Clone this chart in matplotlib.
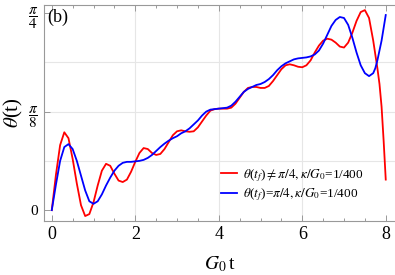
import numpy as np
import matplotlib.pyplot as plt
from matplotlib.ticker import MultipleLocator, FixedLocator

plt.rcParams.update({
    "font.family": "Liberation Serif",
    "mathtext.fontset": "stix",
})

# ============================================================
# Data (theta in units of pi/8)
# ============================================================
t_red = [0.0, 0.1, 0.2, 0.3, 0.4, 0.5, 0.6, 0.7, 0.8, 0.9,
         1.0, 1.1, 1.2, 1.3, 1.4, 1.5, 1.6, 1.7, 1.8, 1.9,
         2.0, 2.1, 2.2, 2.3, 2.4, 2.5, 2.6, 2.7, 2.8, 2.9,
         3.0, 3.1, 3.2, 3.3, 3.4, 3.5, 3.6, 3.7, 3.8, 3.9,
         4.0, 4.1, 4.2, 4.3, 4.4, 4.5, 4.6, 4.7, 4.8, 4.9,
         5.0, 5.1, 5.2, 5.3, 5.4, 5.5, 5.6, 5.7, 5.8, 5.9,
         6.0, 6.1, 6.2, 6.3, 6.4, 6.5, 6.6, 6.7, 6.8, 6.9,
         7.0, 7.1, 7.2, 7.3, 7.4, 7.5, 7.6, 7.7, 7.8, 7.85,
         7.9, 7.95, 8.0]
th_red = [0.0, 0.36, 0.66, 0.79, 0.73, 0.52, 0.27, 0.05, -0.06, -0.04,
          0.08, 0.25, 0.40, 0.47, 0.45, 0.37, 0.30, 0.285, 0.31, 0.39,
          0.49, 0.58, 0.63, 0.62, 0.58, 0.56, 0.57, 0.62, 0.69, 0.76,
          0.80, 0.81, 0.80, 0.795, 0.80, 0.84, 0.90, 0.96, 1.01, 1.025,
          1.03, 1.03, 1.03, 1.04, 1.08, 1.14, 1.20, 1.24, 1.25, 1.25,
          1.24, 1.24, 1.26, 1.31, 1.37, 1.43, 1.47, 1.48, 1.47, 1.455,
          1.45, 1.47, 1.52, 1.60, 1.67, 1.72, 1.74, 1.73, 1.70, 1.66,
          1.65, 1.70, 1.80, 1.92, 2.01, 2.03, 1.95, 1.72, 1.44, 1.28,
          1.05, 0.70, 0.31]

t_blue = [0.0, 0.1, 0.2, 0.3, 0.4, 0.5, 0.6, 0.7, 0.8, 0.9,
          1.0, 1.1, 1.2, 1.3, 1.4, 1.5, 1.6, 1.7, 1.8, 1.9,
          2.0, 2.1, 2.2, 2.3, 2.4, 2.5, 2.6, 2.7, 2.8, 2.9,
          3.0, 3.1, 3.2, 3.3, 3.4, 3.5, 3.6, 3.7, 3.8, 3.9,
          4.0, 4.1, 4.2, 4.3, 4.4, 4.5, 4.6, 4.7, 4.8, 4.9,
          5.0, 5.1, 5.2, 5.3, 5.4, 5.5, 5.6, 5.7, 5.8, 5.9,
          6.0, 6.1, 6.2, 6.3, 6.4, 6.5, 6.6, 6.7, 6.8, 6.9,
          7.0, 7.1, 7.2, 7.3, 7.4, 7.5, 7.6, 7.7, 7.75, 7.8,
          7.9, 8.0]
th_blue = [0.0, 0.26, 0.50, 0.64, 0.67, 0.62, 0.50, 0.35, 0.20, 0.09,
           0.064, 0.09, 0.16, 0.25, 0.33, 0.40, 0.45, 0.48, 0.49, 0.49,
           0.495, 0.50, 0.51, 0.53, 0.56, 0.60, 0.64, 0.675, 0.705, 0.73,
           0.75, 0.78, 0.80, 0.83, 0.87, 0.91, 0.96, 1.00, 1.02, 1.025,
           1.03, 1.035, 1.04, 1.06, 1.10, 1.15, 1.20, 1.23, 1.25, 1.27,
           1.28, 1.30, 1.33, 1.37, 1.42, 1.46, 1.49, 1.51, 1.53, 1.54,
           1.545, 1.55, 1.56, 1.58, 1.62, 1.69, 1.78, 1.87, 1.93, 1.96,
           1.95, 1.88, 1.75, 1.60, 1.47, 1.39, 1.36, 1.39, 1.44, 1.52,
           1.72, 1.98]

labels = [r"$\theta$($t_f$)$\neq\pi/4,\kappa/G_0$=1/400",
          r"$\theta$($t_f$)=$\pi/4,\kappa/G_0$=1/400"]

x_ticks = [0, 2, 4, 6, 8]
y_ticks = [0, np.pi / 8, np.pi / 4]
y_ticklabels = ["0", r"$\dfrac{\pi}{8}$", r"$\dfrac{\pi}{4}$"]

# ============================================================
# Plot
# ============================================================
fig = plt.figure(figsize=(3.95, 2.75), dpi=100)
# axes run past the right edge of the figure, as in the original crop
ax = fig.add_axes([0.111, 0.197, 0.92, 0.785])

scale = np.pi / 8
ax.plot(t_red, np.array(th_red) * scale, color="#ff0000", lw=1.3, label=labels[0])
ax.plot(t_blue, np.array(th_blue) * scale, color="#0000ff", lw=1.3, label=labels[1])

ax.set_xlim(-0.19, 8.515)
ax.set_ylim(-0.0426, 0.8177)

ax.xaxis.set_major_locator(FixedLocator(x_ticks))
ax.xaxis.set_minor_locator(MultipleLocator(0.5))
ax.yaxis.set_major_locator(FixedLocator(y_ticks))
ax.set_yticklabels(y_ticklabels)
ax.get_yticklabels()[0].set_fontsize(13)

# grid every 2 in x, every pi/16 in y
for xv in [2, 4, 6]:
    ax.axvline(xv, color="#e6e6e6", lw=0.8, zorder=0)
for k in range(1, 4):
    ax.axhline(k * np.pi / 16, color="#e6e6e6", lw=0.8, zorder=0)

ax.tick_params(which="both", direction="in", top=True, right=False,
               colors="#999999", labelcolor="black", labelsize=13, width=0.7)
ax.tick_params(which="major", length=4)
ax.tick_params(which="minor", length=2.2)
ax.tick_params(axis="y", labelsize=11, pad=4)

for s in ax.spines.values():
    s.set_color("#999999")
    s.set_linewidth(0.8)
ax.spines["right"].set_visible(False)

ax.set_xlabel(r"$G_0\,$t", fontsize=14)
ax.xaxis.set_label_coords((220 - 44) / (0.92 * 395), -0.155)
ax.set_ylabel(r"$\theta$(t)", fontsize=15, labelpad=2)

ax.text(0.008, 0.985, "(b)", transform=ax.transAxes, fontsize=13,
        va="top", ha="left")

ax.legend(loc="lower left", bbox_to_anchor=(221 / 395, 0.262),
          bbox_transform=fig.transFigure, frameon=False,
          fontsize=9.5, handlelength=1.2, handletextpad=0.5, labelspacing=0.2,
          borderaxespad=0, borderpad=0)

fig.savefig("out.png", dpi=100)
